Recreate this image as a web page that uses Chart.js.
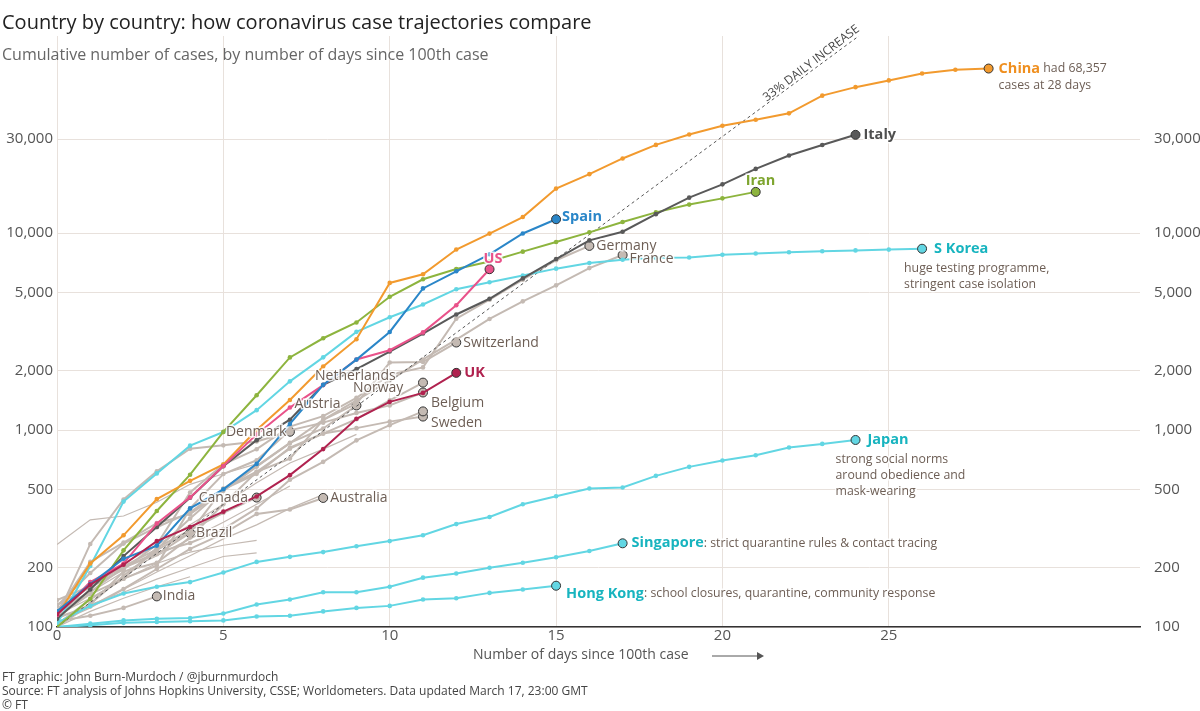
<!DOCTYPE html>
<html>
<head>
<meta charset="utf-8">
<script src="https://cdn.jsdelivr.net/npm/chart.js@4"></script>
<style>
  body { margin: 0; background: #fff; font-family: "Open Sans", sans-serif; }
  #wrap { position: relative; width: 1200px; height: 711px; overflow: hidden; }
  #c { position: absolute; left: 0; top: 0; }
  .t { position: absolute; left: 2px; white-space: nowrap; }
  #title { top: 8px; font-size: 20px; color: #222; }
  #sub { top: 43px; font-size: 16px; color: #666; }
  .foot { font-size: 12px; color: #444; left: 2px; }
</style>
</head>
<body>
<div id="wrap">
  <canvas id="c" width="1200" height="711"></canvas>
  <div class="t" id="title">Country by country: how coronavirus case trajectories compare</div>
  <div class="t" id="sub">Cumulative number of cases, by number of days since 100th case</div>
  <div class="t foot" style="top:668px">FT graphic: John Burn-Murdoch / @jburnmurdoch</div>
  <div class="t foot" style="top:682px">Source: FT analysis of Johns Hopkins University, CSSE; Worldometers. Data updated March 17, 23:00 GMT</div>
  <div class="t foot" style="top:696px">© FT</div>
</div>
<script>
/* ── DATA ─────────────────────────────────────────────── */
const yTicks = [100, 200, 500, 1000, 2000, 5000, 10000, 30000];
const xTicks = [0, 5, 10, 15, 20, 25];

const china = [114, 210, 292, 446, 552, 668, 1000, 1420, 2100, 2890, 5580, 6170, 8240, 9930, 12050, 16800, 19900, 23900, 28000, 31600, 35000, 37600, 40500, 49800, 55000, 59500, 64500, 67400, 68357];
const italy = [110, 155, 229, 322, 453, 655, 888, 1128, 1694, 2036, 2502, 3089, 3858, 4636, 5883, 7375, 9172, 10149, 12462, 15113, 17660, 21157, 24747, 27980, 31506];
const iran = [100, 139, 245, 388, 593, 978, 1501, 2336, 2922, 3513, 4747, 5823, 6566, 7161, 8042, 9000, 10075, 11364, 12729, 13938, 14991, 16169];
const spain = [120, 165, 222, 259, 400, 500, 673, 1073, 1695, 2277, 3146, 5232, 6391, 7798, 9942, 11748];
const us = [115, 169, 210, 335, 455, 656, 950, 1300, 1690, 2280, 2540, 3130, 4300, 6550];
const uk = [116, 164, 207, 273, 322, 385, 460, 590, 800, 1140, 1390, 1543, 1950];
const skorea = [104, 204, 433, 602, 833, 977, 1261, 1766, 2337, 3150, 3736, 4335, 5186, 5621, 6088, 6593, 7041, 7314, 7478, 7513, 7755, 7869, 7979, 8086, 8162, 8236, 8320];
const japan = [105, 128, 148, 160, 169, 189, 214, 227, 240, 257, 273, 292, 333, 362, 420, 461, 505, 511, 585, 650, 700, 745, 815, 850, 890];
const singapore = [100, 104, 108, 110, 111, 117, 130, 138, 150, 150, 160, 178, 187, 200, 212, 226, 243, 266];
const hongkong = [100, 102, 105, 106, 107, 108, 113, 114, 120, 125, 128, 138, 140, 149, 155, 162];

const germany = [130, 159, 196, 262, 482, 670, 799, 1040, 1176, 1457, 1908, 2078, 3675, 4585, 5795, 7272, 8600];
const france = [100, 130, 191, 212, 285, 420, 613, 716, 1126, 1412, 1784, 2281, 2876, 3661, 4499, 5423, 6633, 7730];
const switzerland = [120, 214, 268, 337, 374, 491, 652, 858, 1125, 1359, 2200, 2217, 2780];
const netherlands = [128, 188, 265, 321, 382, 503, 614, 804, 959, 1135, 1413, 1740];
const norway = [113, 147, 176, 205, 400, 598, 702, 996, 1090, 1221, 1333, 1550];
const belgium = [109, 169, 200, 239, 267, 314, 400, 559, 689, 886, 1058, 1243];
const sweden = [137, 161, 203, 248, 355, 500, 599, 814, 961, 1022, 1103, 1170];
const austria = [104, 131, 182, 246, 302, 504, 655, 860, 1018, 1332];
const denmark = [113, 264, 444, 617, 804, 836, 875, 980];
const canada = [103, 138, 176, 252, 310, 380, 454];
const australia = [112, 127, 156, 197, 249, 298, 375, 395, 452];
const brazil = [121, 151, 200, 234, 300];
const india = [107, 114, 125, 143];

const thin1 = [262, 350, 366, 430, 530, 600, 673];
const thin2 = [115, 140, 175, 210, 240, 260, 275];
const thin3 = [110, 130, 150, 175, 200, 228, 238];
const thin4 = [105, 125, 155, 190, 230, 280, 330, 400, 470];
const thin5 = [120, 160, 210, 260, 330, 420, 540, 680, 800, 950];
const thin6 = [110, 150, 190, 230, 280, 340, 420, 520];
const thin7 = [100, 120, 140, 160, 180];

const ref33 = [[0, 100], [24.1, 100000]];

/* ── STYLE ────────────────────────────────────────────── */
const FONT = "'Open Sans', sans-serif";
const GREY = "#c4bab3";
const CYAN = "#62d6e3";
const TEAL = "#17b4bf";
const BROWN = "#6d5e55";

const pts = (arr) => arr.map((v, i) => ({ x: i, y: v }));

function series(arr, color, order) {
  const last = arr.length - 1;
  return {
    data: pts(arr),
    borderColor: color,
    backgroundColor: color,
    borderWidth: 2,
    pointRadius: (c) => (c.dataIndex === last ? 4.5 : 2.3),
    pointBorderColor: (c) => (c.dataIndex === last ? "#333" : color),
    pointBorderWidth: (c) => (c.dataIndex === last ? 1 : 0),
    pointBackgroundColor: color,
    order,
  };
}

function thin(arr) {
  return { data: pts(arr), borderColor: GREY, borderWidth: 1.2, pointRadius: 0, order: 30 };
}

/* ── LABELS ───────────────────────────────────────────── */
// [day, value, dx, dy, parts...] parts: [text, color, kind] kind: b=bold name, n=grey name, s=small note
const labels = [
  [28, 68357, 10, 0, [["China", "#ef8f1f", "b"], [" had 68,357", BROWN, "s"]]],
  [28, 68357, 10, 17, [["cases at 28 days", BROWN, "s"]]],
  [24, 31506, 8, 0, [["Italy", "#4f4f4f", "b"]]],
  [21, 16169, -10, -11, [["Iran", "#7ea52f", "b"]]],
  [15, 11748, 6, -2, [["Spain", "#2a86c8", "b"]]],
  [13, 6550, -6, -10, [["US", "#e9528a", "b"]]],
  [12, 1950, 8, 0, [["UK", "#b0224f", "b"]]],
  [26, 8320, 12, 0, [["S Korea", TEAL, "b"]]],
  [26, 8320, -18, 20, [["huge testing programme,", BROWN, "s"]]],
  [26, 8320, -18, 36, [["stringent case isolation", BROWN, "s"]]],
  [24, 890, 12, 0, [["Japan", TEAL, "b"]]],
  [24, 890, -20, 20, [["strong social norms", BROWN, "s"]]],
  [24, 890, -20, 36, [["around obedience and", BROWN, "s"]]],
  [24, 890, -20, 52, [["mask-wearing", BROWN, "s"]]],
  [17, 266, 9, 0, [["Singapore", TEAL, "b"], [": strict quarantine rules & contact tracing", BROWN, "s"]]],
  [15, 162, 10, 8, [["Hong Kong", TEAL, "b"], [": school closures, quarantine, community response", BROWN, "s"]]],
  [16, 8600, 7, 0, [["Germany", BROWN, "n"]]],
  [17, 7730, 7, 4, [["France", BROWN, "n"]]],
  [12, 2780, 7, 0, [["Switzerland", BROWN, "n"]]],
  [11, 1740, -108, -7, [["Netherlands", BROWN, "n"]]],
  [11, 1550, -70, -4, [["Norway", BROWN, "n"]]],
  [11, 1243, 8, -8, [["Belgium", BROWN, "n"]]],
  [11, 1170, 8, 6, [["Sweden", BROWN, "n"]]],
  [9, 1332, -62, -1, [["Austria", BROWN, "n"]]],
  [7, 980, -64, 0, [["Denmark", BROWN, "n"]]],
  [6, 454, -58, 0, [["Canada", BROWN, "n"]]],
  [8, 452, 7, 0, [["Australia", BROWN, "n"]]],
  [4, 300, 6, 0, [["Brazil", BROWN, "n"]]],
  [3, 143, 6, 0, [["India", BROWN, "n"]]],
];
const FONTS = { b: "bold 14.5px " + FONT, n: "14px " + FONT, s: "12.3px " + FONT };

const labelPlugin = {
  id: "labels",
  afterDatasetsDraw(chart) {
    const { ctx, scales } = chart;
    ctx.save();
    ctx.textBaseline = "middle";
    labels.forEach(([d, v, dx, dy, parts]) => {
      let x = scales.x.getPixelForValue(d) + dx;
      const y = scales.y.getPixelForValue(v) + dy;
      parts.forEach(([t, col, kind]) => {
        ctx.font = FONTS[kind];
        ctx.lineWidth = 3;
        ctx.strokeStyle = "rgba(255,255,255,0.85)";
        ctx.strokeText(t, x, y);
        ctx.fillStyle = col;
        ctx.fillText(t, x, y);
        x += ctx.measureText(t).width;
      });
    });
    // reference line label
    const x0 = scales.x.getPixelForValue(21.2);
    const y0 = scales.y.getPixelForValue(100 * Math.pow(1.33, 21.2));
    const x1 = scales.x.getPixelForValue(24.1);
    const y1 = scales.y.getPixelForValue(100000);
    ctx.translate(x0 + 6, y0 - 6);
    ctx.rotate(Math.atan2(y1 - y0, x1 - x0));
    ctx.font = "12px " + FONT;
    ctx.fillStyle = "#444";
    ctx.textBaseline = "bottom";
    ctx.fillText("33% DAILY INCREASE", 0, 0);
    ctx.restore();
    // x axis title with arrow
    ctx.save();
    ctx.font = "14px " + FONT;
    ctx.fillStyle = "#555";
    ctx.textBaseline = "middle";
    ctx.fillText("Number of days since 100th case", 473, 655);
    ctx.strokeStyle = "#555";
    ctx.lineWidth = 1;
    ctx.beginPath();
    ctx.moveTo(712, 656); ctx.lineTo(762, 656);
    ctx.stroke();
    ctx.beginPath();
    ctx.moveTo(764, 656); ctx.lineTo(757, 652); ctx.lineTo(757, 660); ctx.closePath();
    ctx.fillStyle = "#555"; ctx.fill();
    ctx.restore();
  },
};

/* ── CHART ────────────────────────────────────────────── */
const datasets = [
  thin(thin1), thin(thin2), thin(thin3), thin(thin4), thin(thin5), thin(thin6), thin(thin7),
  series(germany, GREY, 20), series(france, GREY, 20), series(switzerland, GREY, 20),
  series(netherlands, GREY, 20), series(norway, GREY, 20), series(belgium, GREY, 20),
  series(sweden, GREY, 20), series(austria, GREY, 20), series(denmark, GREY, 20),
  series(canada, GREY, 20), series(australia, GREY, 20), series(brazil, GREY, 20),
  series(india, GREY, 20),
  { data: ref33.map(([x, y]) => ({ x, y })), borderColor: "#555", borderWidth: 1, borderDash: [3, 3], pointRadius: 0, order: 15 },
  series(skorea, CYAN, 5), series(japan, CYAN, 5), series(singapore, CYAN, 5), series(hongkong, CYAN, 5),
  series(china, "#f29a2e", 3), series(iran, "#8db43e", 3), series(italy, "#595959", 2),
  series(spain, "#2a86c8", 1), series(us, "#e9528a", 1), series(uk, "#b0224f", 0),
];

const tickFont = { family: FONT, size: 15 };
const yFmt = (v) => (yTicks.includes(v) ? v.toLocaleString("en-US") : "");
const yAfterBuild = (ax) => { ax.ticks = yTicks.map((v) => ({ value: v })); };

new Chart(document.getElementById("c"), {
  type: "line",
  data: { datasets },
  plugins: [labelPlugin],
  options: {
    responsive: false,
    animation: false,
    layout: { padding: { top: 36, bottom: 64, left: 0, right: 0 } },
    plugins: { legend: { display: false }, tooltip: { enabled: false } },
    scales: {
      x: {
        type: "linear", min: 0, max: 32.55,
        afterBuildTicks: (ax) => { ax.ticks = xTicks.map((v) => ({ value: v })); },
        afterFit: (ax) => { ax.height = 20; },
        ticks: { color: "#555", font: tickFont, padding: 0 },
        grid: { color: "#e8e1dc", drawTicks: false },
        border: { color: "#333", width: 1.5 },
      },
      y: {
        type: "logarithmic", min: 100, max: 100000, position: "left",
        afterBuildTicks: yAfterBuild,
        afterFit: (ax) => { ax.width = 57; },
        ticks: { color: "#555", font: tickFont, callback: yFmt, padding: 4 },
        grid: { color: "#e8e1dc", drawTicks: false },
        border: { display: false },
      },
      y2: {
        type: "logarithmic", min: 100, max: 100000, position: "right",
        afterBuildTicks: yAfterBuild,
        afterFit: (ax) => { ax.width = 60; },
        ticks: { color: "#555", font: tickFont, callback: yFmt, padding: 6 },
        grid: { display: false },
        border: { display: false },
      },
    },
  },
});
</script>
</body>
</html>
